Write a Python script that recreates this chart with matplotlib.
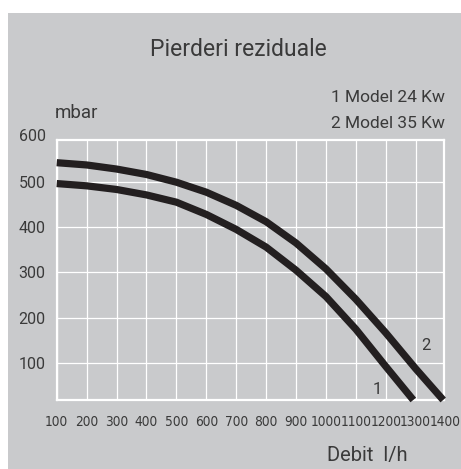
import matplotlib
matplotlib.use("Agg")
import matplotlib.pyplot as plt
from matplotlib.patches import Rectangle
from matplotlib import font_manager
from matplotlib.font_manager import FontProperties

# debit (l/h) and pressure loss (mbar)
debit_1 = [100, 200, 300, 400, 500, 600, 700, 800, 900, 1000, 1100, 1200, 1292]
mbar_1 = [496, 491, 483, 471, 455, 428, 395, 356, 305, 247, 175, 93, 19]
debit_2 = [100, 200, 300, 400, 500, 600, 700, 800, 900, 1000, 1100, 1200, 1300, 1392]
mbar_2 = [542, 537, 528, 516, 499, 477, 448, 412, 365, 308, 241, 167, 88, 19]

x_ticks = [100, 200, 300, 400, 500, 600, 700, 800, 900, 1000, 1100, 1200, 1300, 1400]
y_ticks = [100, 200, 300, 400, 500, 600]

title = "Pierderi reziduale"
legend_lines = ["1 Model 24 Kw", "2 Model 35 Kw"]

BG = "#c9cacc"
TXT = "#3a3a3a"
LINE = "#231f20"

names = {f.name for f in font_manager.fontManager.ttflist}
main_font = "Roboto" if "Roboto" in names else "DejaVu Sans"


def find_narrow():
    # any condensed / narrow regular face that happens to be installed
    for f in font_manager.fontManager.ttflist:
        n = f.name.lower()
        cond = ("narrow" in n or "condensed" in n or
                str(f.stretch) in ("condensed", "semi-condensed", "extra-condensed", "75", "87"))
        if cond and f.style == "normal" and f.weight in (400, "normal", "regular"):
            return FontProperties(fname=f.fname, size=9.8)
    return FontProperties(family=main_font, size=9)


narrow = find_narrow()

W, H = 461, 469
fig = plt.figure(figsize=(W / 100, H / 100), dpi=100)
fig.patch.set_facecolor("white")
fig.patches.append(Rectangle((8 / W, 0), (W - 8) / W, (H - 13) / H,
                             transform=fig.transFigure, facecolor=BG,
                             edgecolor="none", zorder=-10))

ax = fig.add_axes([56.7 / W, 69 / H, (443.5 - 56.7) / W, 260 / H])
ax.set_zorder(1)
ax.set_facecolor(BG)
ax.set_xlim(100, 1393)
ax.set_ylim(19, 592)

ax.set_xticks(x_ticks[:-1])
ax.set_yticks(y_ticks[:-1])
ax.grid(True, color="white", linewidth=0.9)
ax.set_axisbelow(True)
for s in ax.spines.values():
    s.set_color("white")
    s.set_linewidth(1.6)
ax.tick_params(length=0)
ax.tick_params(axis="y", pad=8, labelsize=11.5, labelcolor=TXT)
ax.tick_params(axis="x", pad=11, labelcolor=TXT)
for lab in ax.get_yticklabels():
    lab.set_family(main_font)
for lab in ax.get_xticklabels():
    lab.set_fontproperties(narrow)

# labels that sit just outside the view limits
ax.annotate(str(y_ticks[-1]), xy=(0, y_ticks[-1]), xycoords=("axes fraction", "data"),
            xytext=(-8, 0), textcoords="offset points", ha="right", va="center",
            fontsize=11.5, color=TXT, family=main_font, annotation_clip=False)
ax.annotate(str(x_ticks[-1]), xy=(x_ticks[-1], 0), xycoords=("data", "axes fraction"),
            xytext=(0, -11), textcoords="offset points", ha="center", va="top",
            color=TXT, annotation_clip=False, fontproperties=narrow)

ax.plot(debit_1, mbar_1, color=LINE, linewidth=5.2, solid_capstyle="butt",
        solid_joinstyle="round", clip_on=False, zorder=3)
ax.plot(debit_2, mbar_2, color=LINE, linewidth=5.2, solid_capstyle="butt",
        solid_joinstyle="round", clip_on=False, zorder=3)

ax.text(1170, 43, "1", fontsize=12, color=TXT, family=main_font, ha="center", va="center")
ax.text(1334, 140, "2", fontsize=12, color=TXT, family=main_font, ha="center", va="center")

fig.text(238 / W, 1 - 50 / H, title, fontsize=16.5, color=TXT, family=main_font,
         ha="center", va="center")
fig.text(55 / W, 1 - 113 / H, "mbar", fontsize=13.5, color=TXT, family=main_font,
         ha="left", va="center")
fig.text(445 / W, 1 - 97 / H, legend_lines[0], fontsize=12.5, color=TXT,
         family=main_font, ha="right", va="center")
fig.text(445 / W, 1 - 123 / H, legend_lines[1], fontsize=12.5, color=TXT,
         family=main_font, ha="right", va="center")
fig.text(367.5 / W, 1 - 455 / H, "Debit  l/h", fontsize=14.5, color=TXT,
         family=main_font, ha="center", va="center")

fig.savefig("out.png", dpi=100, facecolor="white")
